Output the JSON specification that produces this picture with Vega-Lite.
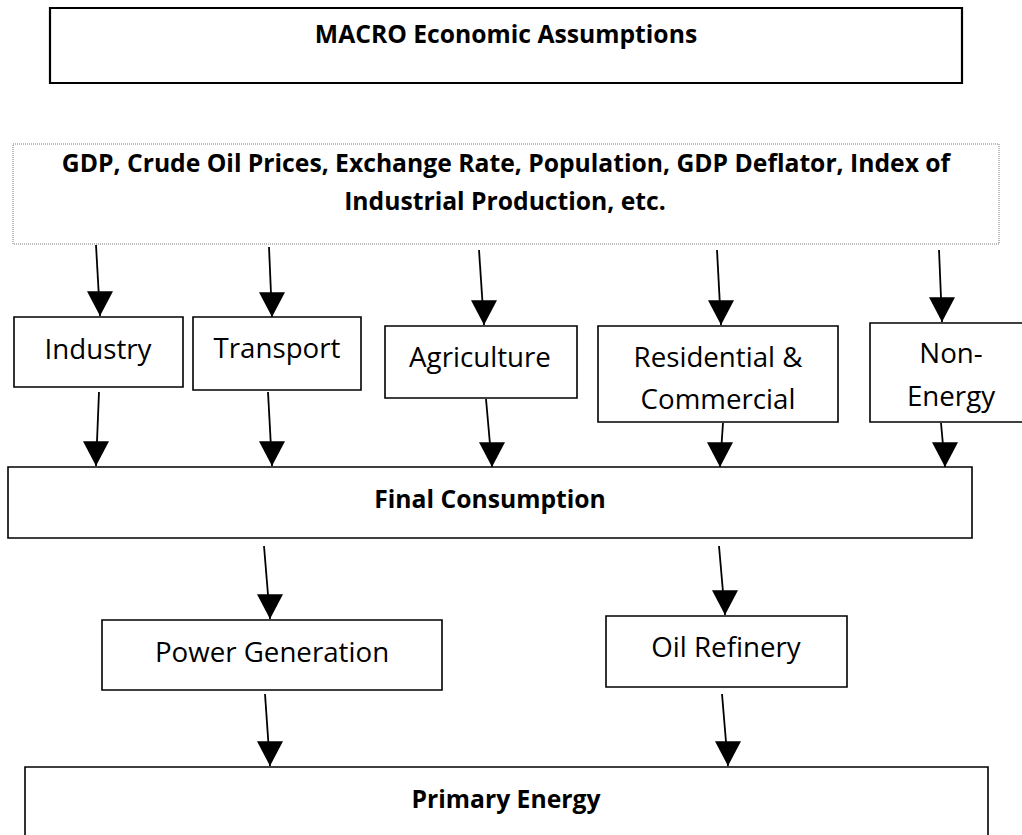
{
  "$schema": "https://vega.github.io/schema/vega-lite/v6.json",
  "width": 1022,
  "height": 835,
  "autosize": "none",
  "padding": 0,
  "background": "white",
  "config": {"view": {"stroke": null}},
  "datasets": {
    "frame": [{"name": "MACRO", "x1": 50, "x2": 962, "y1": 8, "y2": 83}],
    "dotted": [{"name": "Drivers", "x1": 13, "x2": 999, "y1": 144, "y2": 244}],
    "boxes": [
      {"name": "Industry", "x1": 14, "x2": 183, "y1": 317, "y2": 387},
      {"name": "Transport", "x1": 193, "x2": 361, "y1": 317, "y2": 390},
      {"name": "Agriculture", "x1": 385, "x2": 577, "y1": 326, "y2": 398},
      {"name": "Residential & Commercial", "x1": 598, "x2": 838, "y1": 326, "y2": 422},
      {"name": "Non-Energy", "x1": 870, "x2": 1040, "y1": 323, "y2": 422},
      {"name": "Final Consumption", "x1": 8, "x2": 972, "y1": 467, "y2": 538},
      {"name": "Power Generation", "x1": 102, "x2": 442, "y1": 620, "y2": 690},
      {"name": "Oil Refinery", "x1": 606, "x2": 847, "y1": 616, "y2": 687},
      {"name": "Primary Energy", "x1": 25, "x2": 988, "y1": 767, "y2": 860}
    ],
    "arrows": [
      {"xs": 96, "ys": 245, "xt": 100, "yt": 316},
      {"xs": 269, "ys": 247, "xt": 272, "yt": 317},
      {"xs": 479, "ys": 250, "xt": 484, "yt": 325},
      {"xs": 717, "ys": 250, "xt": 721, "yt": 325},
      {"xs": 939, "ys": 250, "xt": 942, "yt": 322},
      {"xs": 99, "ys": 392, "xt": 96, "yt": 466},
      {"xs": 268, "ys": 392, "xt": 272, "yt": 466},
      {"xs": 486, "ys": 399, "xt": 492, "yt": 467},
      {"xs": 723, "ys": 423, "xt": 720, "yt": 467},
      {"xs": 941, "ys": 423, "xt": 945, "yt": 467},
      {"xs": 264, "ys": 546, "xt": 270, "yt": 619},
      {"xs": 719, "ys": 546, "xt": 725, "yt": 615},
      {"xs": 265, "ys": 694, "xt": 270, "yt": 766},
      {"xs": 722, "ys": 694, "xt": 728, "yt": 766}
    ],
    "titles": [
      {"label": "MACRO Economic Assumptions", "x": 506, "y": 43},
      {"label": "GDP, Crude Oil Prices, Exchange Rate, Population, GDP Deflator, Index of", "x": 506, "y": 172},
      {"label": "Industrial Production, etc.", "x": 505, "y": 210},
      {"label": "Final Consumption", "x": 490, "y": 508},
      {"label": "Primary Energy", "x": 506, "y": 808}
    ],
    "labels": [
      {"label": "Industry", "x": 98, "y": 359},
      {"label": "Transport", "x": 277, "y": 358},
      {"label": "Agriculture", "x": 480, "y": 367},
      {"label": "Residential &", "x": 718, "y": 367},
      {"label": "Commercial", "x": 718, "y": 409},
      {"label": "Non-", "x": 951, "y": 363},
      {"label": "Energy", "x": 951, "y": 406},
      {"label": "Power Generation", "x": 272, "y": 662},
      {"label": "Oil Refinery", "x": 726, "y": 657}
    ]
  },
  "layer": [
    {
      "data": {"name": "dotted"},
      "mark": {"type": "rect", "fill": "white", "stroke": "#7a7a7a", "strokeWidth": 1, "strokeDash": [1, 1], "clip": true},
      "encoding": {
        "x": {"field": "x1", "type": "quantitative", "scale": {"domain": [0, 1022], "nice": false, "zero": false}, "axis": null},
        "x2": {"field": "x2"},
        "y": {"field": "y1", "type": "quantitative", "scale": {"domain": [0, 835], "nice": false, "zero": false, "reverse": true}, "axis": null},
        "y2": {"field": "y2"}
      }
    },
    {
      "data": {"name": "frame"},
      "mark": {"type": "rect", "fill": "white", "stroke": "black", "strokeWidth": 2.2, "clip": true},
      "encoding": {
        "x": {"field": "x1", "type": "quantitative", "scale": {"domain": [0, 1022], "nice": false, "zero": false}, "axis": null},
        "x2": {"field": "x2"},
        "y": {"field": "y1", "type": "quantitative", "scale": {"domain": [0, 835], "nice": false, "zero": false, "reverse": true}, "axis": null},
        "y2": {"field": "y2"}
      }
    },
    {
      "data": {"name": "boxes"},
      "mark": {"type": "rect", "fill": "white", "stroke": "black", "strokeWidth": 1.6, "clip": true},
      "encoding": {
        "x": {"field": "x1", "type": "quantitative", "scale": {"domain": [0, 1022], "nice": false, "zero": false}, "axis": null},
        "x2": {"field": "x2"},
        "y": {"field": "y1", "type": "quantitative", "scale": {"domain": [0, 835], "nice": false, "zero": false, "reverse": true}, "axis": null},
        "y2": {"field": "y2"}
      }
    },
    {
      "data": {"name": "arrows"},
      "mark": {"type": "rule", "color": "black", "strokeWidth": 1.8},
      "encoding": {
        "x": {"field": "xs", "type": "quantitative", "scale": {"domain": [0, 1022], "nice": false, "zero": false}, "axis": null},
        "x2": {"field": "xt"},
        "y": {"field": "ys", "type": "quantitative", "scale": {"domain": [0, 835], "nice": false, "zero": false, "reverse": true}, "axis": null},
        "y2": {"field": "yt"}
      }
    },
    {
      "data": {"name": "arrows"},
      "mark": {"type": "point", "shape": "M-1,-1.9L1,-1.9L0,0Z", "filled": true, "fill": "black", "opacity": 1, "strokeWidth": 0, "size": 676},
      "encoding": {
        "x": {"field": "xt", "type": "quantitative", "scale": {"domain": [0, 1022], "nice": false, "zero": false}, "axis": null},
        "y": {"field": "yt", "type": "quantitative", "scale": {"domain": [0, 835], "nice": false, "zero": false, "reverse": true}, "axis": null}
      }
    },
    {
      "data": {"name": "titles"},
      "mark": {"type": "text", "font": "Open Sans", "fontWeight": "bold", "fontSize": 24.7, "align": "center", "baseline": "alphabetic", "color": "black"},
      "encoding": {
        "x": {"field": "x", "type": "quantitative", "scale": {"domain": [0, 1022], "nice": false, "zero": false}, "axis": null},
        "y": {"field": "y", "type": "quantitative", "scale": {"domain": [0, 835], "nice": false, "zero": false, "reverse": true}, "axis": null},
        "text": {"field": "label"}
      }
    },
    {
      "data": {"name": "labels"},
      "mark": {"type": "text", "font": "Open Sans", "fontSize": 27.7, "align": "center", "baseline": "alphabetic", "color": "black"},
      "encoding": {
        "x": {"field": "x", "type": "quantitative", "scale": {"domain": [0, 1022], "nice": false, "zero": false}, "axis": null},
        "y": {"field": "y", "type": "quantitative", "scale": {"domain": [0, 835], "nice": false, "zero": false, "reverse": true}, "axis": null},
        "text": {"field": "label"}
      }
    }
  ]
}
